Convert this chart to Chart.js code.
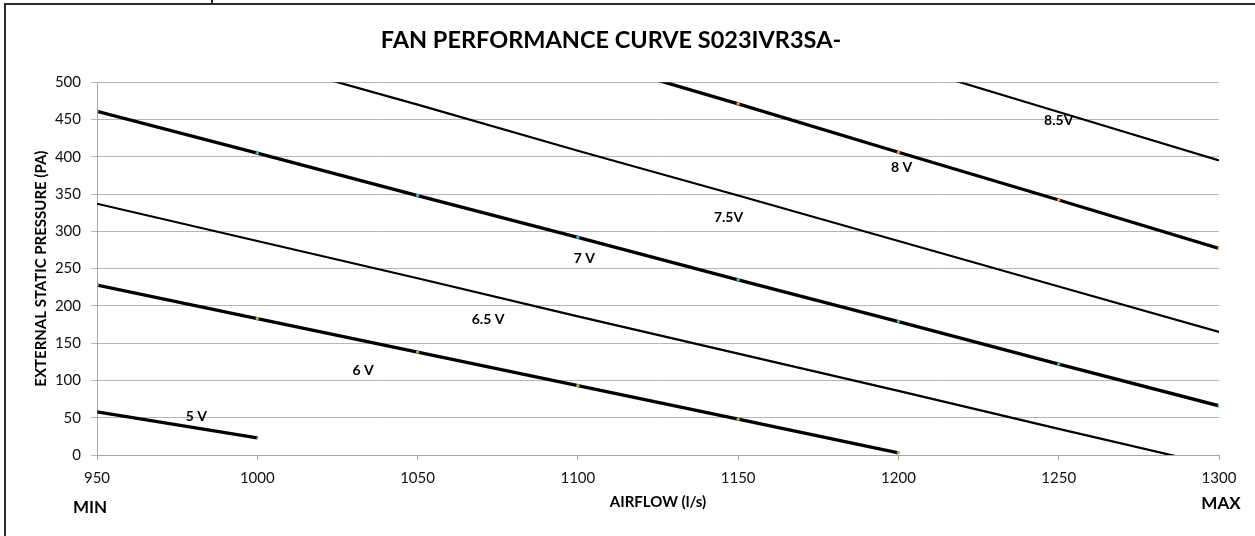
<!DOCTYPE html>
<html>
<head>
<meta charset="utf-8">
<script src="https://cdn.jsdelivr.net/npm/chart.js@4.4.1/dist/chart.umd.min.js"></script>
<style>
  html, body { margin: 0; padding: 0; background: #fff; }
  #wrap { position: relative; width: 1255px; height: 536px; overflow: hidden; }
  #fan { position: absolute; left: 0; top: 0; }
  .rule { position: absolute; background: #2b2b2b; }
</style>
</head>
<body>
<div id="wrap">
  <canvas id="fan" width="1255" height="536"></canvas>
  <div class="rule" style="left:4px;top:3px;width:1251px;height:2px"></div>
  <div class="rule" style="left:4px;top:3px;width:2px;height:533px"></div>
  <div class="rule" style="left:211px;top:0;width:2px;height:4px"></div>
</div>
<script>
// Fan curves: external static pressure (Pa) vs airflow (l/s), one line per control voltage.
const airflow = [950, 1000, 1050, 1100, 1150, 1200, 1250, 1300];

const volt5 = [58, 23, null, null, null, null, null, null];
const volt6 = [228, 183, 138, 93, 48, 3, null, null];
const volt65 = [337, 287, 237, 186, 136, 86, 35, -15];
const volt7 = [461, 405, 348, 292, 235, 179, 122, 66];
const volt75 = [590, 530, 470, 408, 348, 287, 226, 165];
const volt8 = [null, null, null, 534, 471, 406, 342, 277];
const volt85 = [null, null, null, null, null, 525, 460, 395];

const yTicks = [0, 50, 100, 150, 200, 250, 300, 350, 400, 450, 500];

// curve labels sit in the plot at these (airflow, pressure) spots
const curveNames = ["5 V", "6 V", "6.5 V", "7 V", "7.5V", "8 V", "8.5V"];
const labelAirflow = [981, 1033, 1072, 1102, 1147, 1201, 1250];
const labelPressure = [52, 113, 182, 264, 319, 386, 448];

const FONT = "Lato, 'Open Sans', 'DejaVu Sans', sans-serif";

function series(values, name, thick, marker) {
  return {
    label: name,
    data: airflow.map((x, i) => ({ x, y: values[i] })).filter(p => p.y !== null),
    borderColor: "#000",
    borderWidth: thick ? 3.3 : 2.2,
    tension: 0,
    pointRadius: marker ? 1.3 : 0,
    pointStyle: name === "5 V" ? "crossRot" : "circle",
    pointBackgroundColor: marker,
    pointBorderColor: marker,
    pointBorderWidth: 1
  };
}

const curveText = {
  id: "curveText",
  afterDatasetsDraw(chart) {
    const { ctx, scales: { x, y }, chartArea } = chart;
    ctx.save();
    ctx.fillStyle = "#000";
    ctx.textAlign = "center";
    ctx.textBaseline = "middle";
    ctx.font = "bold 14px " + FONT;
    curveNames.forEach((t, i) => {
      ctx.fillText(t, x.getPixelForValue(labelAirflow[i]), y.getPixelForValue(labelPressure[i]));
    });
    ctx.font = "bold 17px " + FONT;
    ctx.fillText("MIN", chartArea.left - 7, chartArea.bottom + 53);
    ctx.fillText("MAX", chartArea.right + 2, chartArea.bottom + 49);
    ctx.restore();
  }
};

new Chart(document.getElementById("fan"), {
  type: "line",
  data: {
    datasets: [
      series(volt5, "5 V", true, "#8064a2"),
      series(volt6, "6 V", true, "#9bbb59"),
      series(volt65, "6.5 V", false, null),
      series(volt7, "7 V", true, "#4bacc6"),
      series(volt75, "7.5V", false, null),
      series(volt8, "8 V", true, "#f79646"),
      series(volt85, "8.5V", false, null)
    ]
  },
  options: {
    responsive: false,
    devicePixelRatio: 1,
    animation: false,
    layout: { padding: { left: 3, right: 36, top: 0, bottom: 0 } },
    plugins: {
      legend: { display: false },
      tooltip: { enabled: false },
      title: {
        display: true,
        text: "FAN PERFORMANCE CURVE S023IVR3SA-",
        color: "#000",
        font: { family: FONT, size: 23.5, weight: "bold" },
        padding: { top: 26, bottom: 28 }
      }
    },
    scales: {
      x: {
        type: "linear",
        min: airflow[0],
        max: airflow[airflow.length - 1],
        afterBuildTicks: s => { s.ticks = airflow.map(v => ({ value: v })); },
        afterFit: s => { s.height = 81; s.paddingLeft = 0; s.paddingRight = 0; },
        grid: { drawOnChartArea: false, tickLength: 5, color: "#a6a6a6" },
        border: { color: "#a6a6a6" },
        ticks: { color: "#111", padding: 9, maxRotation: 0, font: { family: FONT, size: 15 }, callback: v => String(v) },
        title: {
          display: true,
          text: "AIRFLOW (l/s)",
          color: "#000",
          font: { family: FONT, size: 15, weight: "bold" },
          padding: { top: 0, bottom: 25 }
        }
      },
      y: {
        min: yTicks[0],
        max: yTicks[yTicks.length - 1],
        afterBuildTicks: s => { s.ticks = yTicks.map(v => ({ value: v })); },
        afterFit: s => { s.width = 94; s.paddingTop = 0; s.paddingBottom = 0; },
        grid: { color: "#b5b5b5", tickLength: 6 },
        border: { color: "#a6a6a6" },
        ticks: { color: "#111", padding: 10, font: { family: FONT, size: 15 }, callback: v => String(v) },
        title: {
          display: true,
          text: "EXTERNAL STATIC PRESSURE (PA)",
          color: "#000",
          font: { family: FONT, size: 15, weight: "bold" },
          padding: { top: 29, bottom: 0 }
        }
      }
    }
  },
  plugins: [curveText]
});
</script>
</body>
</html>
